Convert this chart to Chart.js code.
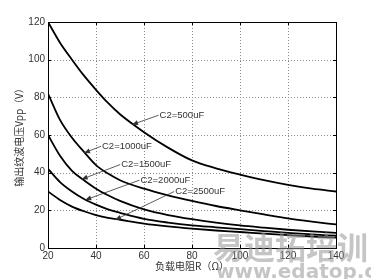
<!DOCTYPE html>
<html>
<head>
<meta charset="utf-8">
<script src="https://cdn.jsdelivr.net/npm/chart.js@4/dist/chart.umd.min.js"></script>
<style>
  html, body { margin: 0; padding: 0; background: #fff; }
  #wrap { width: 371px; height: 279px; }
</style>
</head>
<body>
<div id="wrap"><canvas id="c"></canvas></div>
<script>
// load resistance R (ohm)
const rValues = [20, 25, 30, 35, 40, 45, 50, 60, 70, 80, 90, 100, 110, 120, 130, 140];

// output ripple Vpp (V), one array per C2
const vpp500 = [120, 109, 100, 91.5, 84, 77, 71, 61.5, 53.3, 46.5, 42.3, 39, 36, 33.5, 31.5, 30];
const vpp1000 = [82, 68, 58.5, 51, 44, 39.5, 36, 31.5, 28, 25, 22.3, 20, 17.8, 15.7, 14, 12.5];
const vpp1500 = [60, 49, 41, 36, 31.5, 28, 25, 20.5, 17.5, 15.3, 13.5, 12, 10.8, 9.7, 8.8, 8];
const vpp2000 = [42, 35, 30, 26, 23, 20.5, 18.7, 15.5, 13.5, 12, 11, 10, 9, 8, 7.2, 6.5];
const vpp2500 = [30, 25.5, 22, 19.5, 17.5, 16, 15, 13, 11.5, 10.3, 9.3, 8.5, 7.6, 6.8, 6.1, 5.5];

const xTicks = [20, 40, 60, 80, 100, 120, 140];
const yTicks = [0, 20, 40, 60, 80, 100, 120];

// curve labels: text anchor and arrow tip, in data units
const curveLabels = [
  { text: 'C2=500uF',  tx: 66.5, ty: 70.5, ax: 55,   ay: 65.5 },
  { text: 'C2=1000uF', tx: 42.5, ty: 54,   ax: 35,   ay: 50.5 },
  { text: 'C2=1500uF', tx: 50.5, ty: 44.3, ax: 34,   ay: 36.5 },
  { text: 'C2=2000uF', tx: 58.5, ty: 36,   ax: 35.5, ay: 25.5 },
  { text: 'C2=2500uF', tx: 73,   ty: 30,   ax: 48,   ay: 15 }
];

function toPoints(vals) {
  return rValues.map((r, i) => ({ x: r, y: vals[i] }));
}

function series(vals) {
  return {
    data: toPoints(vals),
    borderColor: '#000',
    borderWidth: 1.8,
    pointRadius: 0,
    fill: false,
    cubicInterpolationMode: 'monotone'
  };
}

// dotted grid under the curves
const grid = {
  id: 'dotgrid',
  beforeDatasetsDraw(chart) {
    const ctx = chart.ctx;
    const xs = chart.scales.x, ys = chart.scales.y;
    const a = chart.chartArea;
    ctx.save();
    ctx.strokeStyle = '#8c8c8c';
    ctx.lineWidth = 1;
    ctx.setLineDash([1, 2]);
    xTicks.slice(1, -1).forEach(v => {
      const px = Math.round(xs.getPixelForValue(v)) + 0.5;
      ctx.beginPath(); ctx.moveTo(px, a.top); ctx.lineTo(px, a.bottom); ctx.stroke();
    });
    yTicks.slice(1, -1).forEach(v => {
      const py = Math.round(ys.getPixelForValue(v)) + 0.5;
      ctx.beginPath(); ctx.moveTo(a.left, py); ctx.lineTo(a.right, py); ctx.stroke();
    });
    ctx.restore();
  }
};

const overlay = {
  id: 'overlay',
  afterDraw(chart) {
    const ctx = chart.ctx;
    const xs = chart.scales.x, ys = chart.scales.y;
    const a = chart.chartArea;
    ctx.save();
    // frame
    ctx.strokeStyle = '#000';
    ctx.lineWidth = 1;
    ctx.setLineDash([]);
    ctx.strokeRect(Math.round(a.left) + 0.5, Math.round(a.top) + 0.5,
      Math.round(a.right - a.left), Math.round(a.bottom - a.top));
    // small inner ticks
    xTicks.forEach(v => {
      const px = Math.round(xs.getPixelForValue(v)) + 0.5;
      ctx.beginPath();
      ctx.moveTo(px, a.bottom); ctx.lineTo(px, a.bottom - 3);
      ctx.moveTo(px, a.top); ctx.lineTo(px, a.top + 3);
      ctx.stroke();
    });
    yTicks.forEach(v => {
      const py = Math.round(ys.getPixelForValue(v)) + 0.5;
      ctx.beginPath();
      ctx.moveTo(a.left, py); ctx.lineTo(a.left + 3, py);
      ctx.moveTo(a.right, py); ctx.lineTo(a.right - 3, py);
      ctx.stroke();
    });
    // labels with arrows
    ctx.font = '9.5px "Liberation Sans", Arial, sans-serif';
    ctx.textBaseline = 'middle';
    ctx.textAlign = 'left';
    curveLabels.forEach(l => {
      const tx = xs.getPixelForValue(l.tx), ty = ys.getPixelForValue(l.ty);
      const ax = xs.getPixelForValue(l.ax), ay = ys.getPixelForValue(l.ay);
      ctx.strokeStyle = '#333';
      ctx.fillStyle = '#333';
      ctx.lineWidth = 0.8;
      ctx.beginPath();
      ctx.moveTo(tx - 1, ty);
      ctx.lineTo(ax, ay);
      ctx.stroke();
      const ang = Math.atan2(ay - ty, ax - tx);
      const len = 6, wid = 2.5;
      ctx.beginPath();
      ctx.moveTo(ax, ay);
      ctx.lineTo(ax - len * Math.cos(ang) + wid * Math.sin(ang), ay - len * Math.sin(ang) - wid * Math.cos(ang));
      ctx.lineTo(ax - len * Math.cos(ang) - wid * Math.sin(ang), ay - len * Math.sin(ang) + wid * Math.cos(ang));
      ctx.closePath();
      ctx.fill();
      ctx.fillText(l.text, tx, ty);
    });
    // watermark
    ctx.fillStyle = 'rgba(150,150,150,0.55)';
    ctx.font = 'bold 31px "Noto Sans CJK SC", sans-serif';
    ctx.textAlign = 'left';
    ctx.textBaseline = 'alphabetic';
    ctx.fillText('易迪拓培训', 213, 259);
    ctx.font = 'bold 20px "DejaVu Sans", sans-serif';
    ctx.fillText('www.edatop.com', 216, 278);
    ctx.restore();
  }
};

new Chart(document.getElementById('c'), {
  type: 'line',
  data: {
    datasets: [series(vpp500), series(vpp1000), series(vpp1500), series(vpp2000), series(vpp2500)]
  },
  options: {
    responsive: true,
    maintainAspectRatio: false,
    animation: false,
    layout: { padding: { left: 0, top: 22, right: 35, bottom: 0 } },
    plugins: { legend: { display: false }, tooltip: { enabled: false } },
    scales: {
      x: {
        type: 'linear',
        min: 20, max: 140,
        afterBuildTicks: s => { s.ticks = xTicks.map(v => ({ value: v })); },
        afterFit: s => { s.height = 31; },
        grid: { display: false, drawTicks: false },
        border: { display: false },
        ticks: { color: '#333', padding: 2, font: { size: 10, family: '"Liberation Sans", Arial, sans-serif' }, maxRotation: 0 },
        title: {
          display: true,
          text: '负载电阻R（Ω）',
          color: '#333',
          font: { size: 10, family: '"Noto Sans CJK SC", sans-serif' },
          padding: { top: 0, bottom: 7 }
        }
      },
      y: {
        type: 'linear',
        min: 0, max: 120,
        afterBuildTicks: s => { s.ticks = yTicks.map(v => ({ value: v })); },
        afterFit: s => { s.width = 48; },
        grid: { display: false, drawTicks: false },
        border: { display: false },
        ticks: { color: '#333', padding: 3, font: { size: 10, family: '"Liberation Sans", Arial, sans-serif' } },
        title: {
          display: true,
          text: '输出纹波电压Vpp（V）',
          color: '#333',
          font: { size: 10, family: '"Noto Sans CJK SC", sans-serif' },
          padding: { top: 13, bottom: 0 }
        }
      }
    }
  },
  plugins: [grid, overlay]
});
</script>
</body>
</html>
